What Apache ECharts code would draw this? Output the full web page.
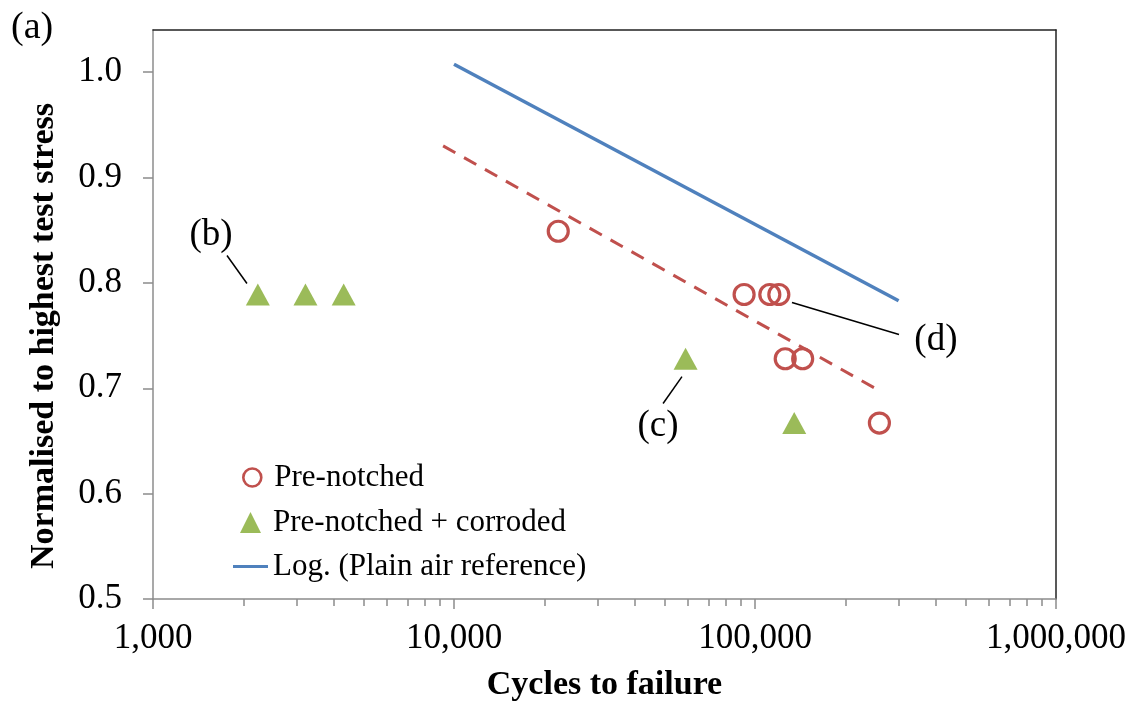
<!DOCTYPE html>
<html><head><meta charset="utf-8">
<script src="https://cdn.jsdelivr.net/npm/echarts@6/dist/echarts.min.js"></script>
<style>html,body{margin:0;padding:0;background:#fff}#c{width:1134px;height:708px}</style>
</head><body><div id="c"></div>
<script>
// ---- data ----
const preNotched = [[22200,0.849],[92000,0.789],[112000,0.789],[120000,0.789],[126000,0.728],[144000,0.728],[259000,0.667]];
const corroded = [[2230,0.789],[3210,0.789],[4300,0.789],[58800,0.728],[135000,0.667]];
const plainAirTrend = [[10000,1.0075],[300000,0.783]];
const preNotchedTrend = [[9200,0.93],[254000,0.699]];
const xMajorTicks = [1000,10000,100000,1000000];
const xMinorTicks = [2000,3000,4000,5000,6000,7000,8000,9000,20000,30000,40000,50000,60000,70000,80000,90000,200000,300000,400000,500000,600000,700000,800000,900000];
const yTicks = [0.5,0.6,0.7,0.8,0.9,1.0];
const annotLabels = ['(b)','(c)','(d)'];
const annotTextAt = [[1558,0.845],[47600,0.6636],[399000,0.746]];
const annotLeaderFrom = [[1761,0.826],[57200,0.7111],[132700,0.7814]];
const annotLeaderTo = [[2052,0.7994],[49500,0.6855],[300900,0.751]];

const FONT = '"Liberation Serif", "Times New Roman", serif';
const AXIS_GREY = '#8c8c8c';
const RED = '#C0504D', GREEN = '#9BBB59', BLUE = '#4F81BD';
const chart = echarts.init(document.getElementById('c'), null, {renderer:'canvas'});

const logX = {type:'log', logBase:10, min:1000, max:1000000};
const legendText = {fontFamily:FONT, fontSize:31, color:'#000', lineHeight:30};
chart.setOption({
  animation:false,
  backgroundColor:'#fff',
  title:{text:'(a)', left:11, top:9, padding:0, textStyle:{fontFamily:FONT, fontSize:38, fontWeight:'normal', color:'#000'}},
  grid:{left:153, right:78, top:30, bottom:109, containLabel:false},
  legend:[
    {
      data:[{name:'Pre-notched', icon:'circle', itemStyle:{color:'rgba(255,255,255,0)', borderColor:RED, borderWidth:2.6, opacity:1}}],
      orient:'vertical', left:242, top:462, padding:0, itemWidth:18, itemHeight:18,
      textStyle:Object.assign({padding:[0,0,0,8]}, legendText)
    },
    {
      data:[{name:'Pre-notched + corroded', icon:'triangle', itemStyle:{color:GREEN, opacity:1}}],
      orient:'vertical', left:240, top:507, padding:0, itemWidth:21, itemHeight:21,
      textStyle:Object.assign({padding:[0,0,0,7]}, legendText)
    },
    {
      data:[{name:'Log. (Plain air reference)', icon:'path://M0,0L35,0L35,3L0,3Z'}],
      orient:'vertical', left:233, top:551, padding:0, itemWidth:35, itemHeight:16,
      textStyle:legendText
    }
  ],
  xAxis:[
    Object.assign({}, logX, {
      position:'bottom',
      axisLine:{show:true, onZero:false, lineStyle:{color:AXIS_GREY, width:1.5}},
      axisTick:{show:true, inside:false, length:10, customValues:xMajorTicks, lineStyle:{color:AXIS_GREY, width:1.5}},
      axisLabel:{customValues:xMajorTicks, formatter:v=>Math.round(v).toLocaleString('en-US'), fontFamily:FONT, fontSize:35, color:'#000', margin:22},
      splitLine:{show:false}, minorTick:{show:false},
      name:'Cycles to failure', nameLocation:'middle', nameGap:69,
      nameTextStyle:{fontFamily:FONT, fontSize:34, fontWeight:'bold', color:'#000'}
    }),
    Object.assign({}, logX, {
      position:'bottom',
      axisLine:{show:false, onZero:false},
      axisTick:{show:true, inside:false, length:7, customValues:xMinorTicks, lineStyle:{color:AXIS_GREY, width:1.5}},
      axisLabel:{show:false}, splitLine:{show:false}
    }),
    Object.assign({}, logX, {
      position:'top',
      axisLine:{show:true, onZero:false, lineStyle:{color:'#222', width:1.5}},
      axisTick:{show:false}, axisLabel:{show:false}, splitLine:{show:false}
    })
  ],
  yAxis:[
    {
      type:'value', min:0.5, max:1.04, interval:0.1, position:'left',
      axisLine:{show:true, onZero:false, lineStyle:{color:AXIS_GREY, width:1.5}},
      axisTick:{show:true, inside:false, length:10, customValues:yTicks, lineStyle:{color:AXIS_GREY, width:1.5}},
      axisLabel:{customValues:yTicks, formatter:v=>v.toFixed(1), fontFamily:FONT, fontSize:35, color:'#000', margin:31},
      splitLine:{show:false},
      name:'Normalised to highest test stress', nameLocation:'middle', nameGap:92, nameRotate:90,
      nameTextStyle:{fontFamily:FONT, fontSize:34, fontWeight:'bold', color:'#000', padding:[0,43,0,0]}
    },
    {
      type:'value', min:0.5, max:1.04, position:'right',
      axisLine:{show:true, onZero:false, lineStyle:{color:'#222', width:1.5}},
      axisTick:{show:false}, axisLabel:{show:false}, splitLine:{show:false}
    }
  ],
  series:[
    {
      name:'Log. (Plain air reference)', type:'line', xAxisIndex:0, yAxisIndex:0,
      data:plainAirTrend, symbol:'none', color:BLUE,
      lineStyle:{color:BLUE, width:3.5}, z:2, silent:true
    },
    {
      name:'Pre-notched trend', type:'line', xAxisIndex:0, yAxisIndex:0,
      data:preNotchedTrend, symbol:'none', color:RED,
      lineStyle:{color:RED, width:3, type:[14,10]}, z:2, silent:true
    },
    {
      name:'Pre-notched', type:'scatter', xAxisIndex:0, yAxisIndex:0,
      data:preNotched, symbol:'circle', symbolSize:20,
      itemStyle:{color:'rgba(255,255,255,0)', borderColor:RED, borderWidth:3.2, opacity:1}, z:3
    },
    {
      name:'Pre-notched + corroded', type:'scatter', xAxisIndex:0, yAxisIndex:0,
      data:corroded, symbol:'triangle', symbolSize:[24,22],
      itemStyle:{color:GREEN, opacity:1}, z:3
    },
    {
      name:'annotations', type:'custom', xAxisIndex:0, yAxisIndex:0, silent:true, clip:false, z:4,
      data:annotLabels.map((t,i)=>[annotTextAt[i][0],annotTextAt[i][1],annotLeaderFrom[i][0],annotLeaderFrom[i][1],annotLeaderTo[i][0],annotLeaderTo[i][1]]),
      renderItem:function(params, api){
        const i = params.dataIndex;
        const t = api.coord([api.value(0), api.value(1)]);
        const a = api.coord([api.value(2), api.value(3)]);
        const b = api.coord([api.value(4), api.value(5)]);
        return {type:'group', children:[
          {type:'line', shape:{x1:a[0],y1:a[1],x2:b[0],y2:b[1]}, style:{stroke:'#000', lineWidth:1.5}},
          {type:'text', x:t[0], y:t[1], style:{text:annotLabels[i], font:'37px ' + FONT, fill:'#000', align:'center', verticalAlign:'middle'}}
        ]};
      }
    }
  ]
});
</script>
</body></html>
